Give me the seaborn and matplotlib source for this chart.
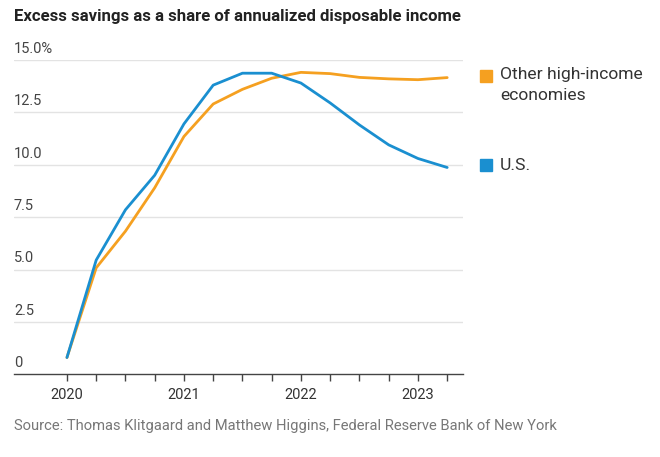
import matplotlib
matplotlib.use('Agg')
import matplotlib.pyplot as plt
import matplotlib.patches as mpatches
import seaborn as sns
import pandas as pd

# Données (trimestrielles, 2020 T1 -> 2023 T2)
quarters = list(range(14))
us = [0.8, 5.45, 7.85, 9.5, 11.95, 13.8, 14.37, 14.37, 13.9, 12.95, 11.9, 10.95, 10.3, 9.87]
other = [0.8, 5.08, 6.83, 8.9, 11.35, 12.9, 13.6, 14.13, 14.41, 14.35, 14.17, 14.1, 14.06, 14.16]
year_labels = ['2020', '2021', '2022', '2023']
ytick_values = [0, 2.5, 5.0, 7.5, 10.0, 12.5, 15.0]
ytick_labels = ['0', '2.5', '5.0', '7.5', '10.0', '12.5', '15.0%']

blue = '#1a8fd0'
orange = '#f5a020'

df = pd.DataFrame({
    'q': quarters * 2,
    'val': us + other,
    'serie': ['U.S.'] * len(us) + ['Other high-income economies'] * len(other),
})

sns.set_style('white')
plt.rcParams['font.family'] = ['Roboto', 'DejaVu Sans']

fig = plt.figure(figsize=(6.6, 4.57), dpi=100)
ax = fig.add_axes([14 / 660, 1 - 374.3 / 457, (462.7 - 14) / 660, (374.3 - 60) / 457])

sns.lineplot(data=df, x='q', y='val', hue='serie',
             palette={'U.S.': blue, 'Other high-income economies': orange},
             hue_order=['Other high-income economies', 'U.S.'],
             linewidth=2, legend=False, ax=ax)

ax.set_xlim(-1.81, 13.53)
ax.set_ylim(0, 15)

# grille horizontale
for v in ytick_values[1:]:
    ax.axhline(v, color='#e3e3e3', linewidth=1, zorder=0)
ax.set_yticks([])
for v, lab in zip(ytick_values, ytick_labels):
    ax.text(0, v + 0.2, lab, transform=ax.get_yaxis_transform(), ha='left', va='bottom',
            fontsize=10.5, color='#444444')

ax.set_xticks(quarters)
ax.set_xticklabels([year_labels[i // 4] if i % 4 == 0 else '' for i in quarters],
                   fontsize=10.5, color='#333333')
ax.tick_params(axis='x', length=5, width=1, color='#444444', pad=5, bottom=True)
ax.set_xlabel('')
ax.set_ylabel('')
for s in ['top', 'right', 'left']:
    ax.spines[s].set_visible(False)
ax.spines['bottom'].set_color('#444444')
ax.spines['bottom'].set_linewidth(1)

# légende à droite
fig.add_artist(mpatches.Rectangle((480 / 660, 1 - 82 / 457), 12 / 660, 12 / 457,
                                  transform=fig.transFigure, color=orange))
fig.text(500 / 660, 1 - 75 / 457, 'Other high-income', fontsize=12.6,
         color='#333333', va='center', ha='left')
fig.text(500 / 660, 1 - 96 / 457, 'economies', fontsize=12.6,
         color='#333333', va='center', ha='left')
fig.add_artist(mpatches.Rectangle((480 / 660, 1 - 171 / 457), 12 / 660, 12 / 457,
                                  transform=fig.transFigure, color=blue))
fig.text(500 / 660, 1 - 165 / 457, 'U.S.', fontsize=12.6, color='#333333', va='center', ha='left')

fig.text(14 / 660, 1 - 17 / 457, 'Excess savings as a share of annualized disposable income',
         fontsize=12.1, fontweight='bold', color='#222222', va='center', ha='left')
fig.text(14 / 660, 1 - 426 / 457,
         'Source: Thomas Klitgaard and Matthew Higgins, Federal Reserve Bank of New York',
         fontsize=10.6, color='#777777', va='center', ha='left')

fig.savefig('out.png', dpi=100)
